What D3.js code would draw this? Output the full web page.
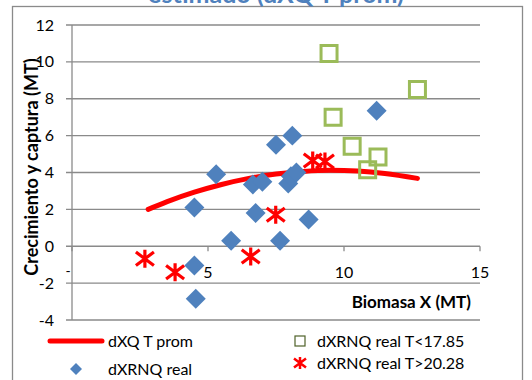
<!DOCTYPE html>
<html>
<head>
<meta charset="utf-8">
<script src="https://cdn.jsdelivr.net/npm/d3@7"></script>
<style>
  body { margin: 0; background: #fff; }
  svg { display: block; font-family: Lato, "Open Sans", sans-serif; }
</style>
</head>
<body>
<svg id="chart" width="532" height="380"></svg>
<script>
// values
var yTicks = [-4, -2, 0, 2, 4, 6, 8, 10, 12];
var xTicks = [5, 10, 15];

// dXQ T prom (fitted curve)
var promX = [2.8, 3.5, 4.5, 5.5, 6.5, 7.5, 8.5, 9.5, 10.5, 11.5, 12.7];
var promY = [2.0, 2.42, 2.93, 3.35, 3.68, 3.92, 4.06, 4.12, 4.08, 3.95, 3.68];

// dXRNQ real
var realX = [4.5, 5.3, 4.5, 4.55, 5.85, 6.65, 7.0, 6.75, 7.5, 8.1, 7.95, 8.05, 8.25, 7.65, 8.7, 11.2];
var realY = [2.1, 3.9, -1.05, -2.85, 0.3, 3.35, 3.5, 1.8, 5.5, 6.0, 3.4, 3.8, 4.0, 0.3, 1.45, 7.35];

// dXRNQ real T<17.85
var coldX = [9.45, 12.7, 9.6, 10.3, 11.25, 10.87];
var coldY = [10.45, 8.5, 7.0, 5.43, 4.84, 4.15];

// dXRNQ real T>20.28
var warmX = [2.68, 3.79, 6.57, 7.49, 8.85, 9.3];
var warmY = [-0.68, -1.41, -0.56, 1.71, 4.65, 4.6];

var svg = d3.select("#chart");

var x = d3.scaleLinear().domain([0, 15]).range([72, 480]),
  y = d3.scaleLinear().domain([-4, 12]).range([320, 25]);

var blue = "#4F81BD", green = "#9BBB59", red = "#FF0000", gridColor = "#8a8a8a";

// outer chart frame
svg.append("rect")
  .attr("x", 12.5).attr("y", 6.5)
  .attr("width", 510).attr("height", 400)
  .attr("fill", "none")
  .attr("stroke", gridColor)
  .attr("stroke-width", 1.3);

// title (mostly cut off at the top, as in the source)
svg.append("text")
  .attr("x", 276).attr("y", 3)
  .attr("text-anchor", "middle")
  .attr("font-size", 25).attr("font-weight", "bold")
  .attr("fill", "#4F81BD")
  .text("estimado (dXQ T prom)");

// horizontal gridlines
svg.append("g")
  .selectAll("line")
  .data(yTicks)
  .enter().append("line")
  .attr("x1", 66).attr("x2", x(15))
  .attr("y1", function (d) { return y(d); })
  .attr("y2", function (d) { return y(d); })
  .attr("stroke", gridColor)
  .attr("stroke-width", 1.3);

// vertical axis line
svg.append("line")
  .attr("x1", x(0)).attr("x2", x(0))
  .attr("y1", y(12)).attr("y2", y(-4))
  .attr("stroke", gridColor)
  .attr("stroke-width", 1.3);

// y tick labels
svg.append("g")
  .selectAll("text")
  .data(yTicks)
  .enter().append("text")
  .attr("x", 54)
  .attr("y", function (d) { return y(d); })
  .attr("dy", "0.35em")
  .attr("text-anchor", "end")
  .attr("font-size", 16)
  .text(function (d) { return d; });

// x ticks at y = 0
var xg = svg.append("g");
xg.selectAll("line")
  .data([0].concat(xTicks))
  .enter().append("line")
  .attr("x1", function (d) { return x(d); })
  .attr("x2", function (d) { return x(d); })
  .attr("y1", y(0)).attr("y2", y(0) + 5)
  .attr("stroke", gridColor)
  .attr("stroke-width", 1.3);
xg.selectAll("text")
  .data(xTicks)
  .enter().append("text")
  .attr("x", function (d) { return x(d); })
  .attr("y", y(0) + 26)
  .attr("dy", "0.35em")
  .attr("text-anchor", "middle")
  .attr("font-size", 16)
  .text(function (d) { return d; });

// stray dash left of the axis
svg.append("text")
  .attr("x", 68).attr("y", 276)
  .attr("text-anchor", "middle")
  .attr("font-size", 14)
  .text("-");

// axis titles
svg.append("text")
  .attr("transform", "translate(38,167) rotate(-90)")
  .attr("text-anchor", "middle")
  .attr("font-size", 18).attr("font-weight", "bold")
  .text("Crecimiento y captura (MT)");

svg.append("text")
  .attr("x", 471).attr("y", 308)
  .attr("text-anchor", "end")
  .attr("font-size", 17).attr("font-weight", "bold")
  .text("Biomasa X (MT)");

// fitted curve
var prom = promX.map(function (d, i) { return [d, promY[i]]; });
svg.append("path")
  .datum(prom)
  .attr("fill", "none")
  .attr("stroke", red)
  .attr("stroke-width", 5)
  .attr("stroke-linecap", "round")
  .attr("d", d3.line()
    .x(function (d) { return x(d[0]); })
    .y(function (d) { return y(d[1]); })
    .curve(d3.curveMonotoneX));

// markers
var diamond = d3.symbol().type(d3.symbolSquare).size(200)();
var square = d3.symbol().type(d3.symbolSquare).size(256)();
function star(r) {
  var h = r * 0.75;
  return "M0," + (-r) + "L0," + r +
    "M" + (-r) + "," + (-h) + "L" + r + "," + h +
    "M" + (-r) + "," + h + "L" + r + "," + (-h);
}

svg.append("g")
  .selectAll("path")
  .data(realX)
  .enter().append("path")
  .attr("d", diamond)
  .attr("fill", blue)
  .attr("transform", function (d, i) { return "translate(" + x(d) + "," + y(realY[i]) + ") rotate(45)"; });

svg.append("g")
  .selectAll("path")
  .data(coldX)
  .enter().append("path")
  .attr("d", square)
  .attr("fill", "none")
  .attr("stroke", green)
  .attr("stroke-width", 3)
  .attr("transform", function (d, i) { return "translate(" + x(d) + "," + y(coldY[i]) + ")"; });

svg.append("g")
  .selectAll("path")
  .data(warmX)
  .enter().append("path")
  .attr("d", star(9))
  .attr("fill", "none")
  .attr("stroke", red)
  .attr("stroke-width", 3.2)
  .attr("transform", function (d, i) { return "translate(" + x(d) + "," + y(warmY[i]) + ")"; });

// legend
var legend = svg.append("g").attr("font-size", 16);

legend.append("line")
  .attr("x1", 50).attr("x2", 102).attr("y1", 341).attr("y2", 341)
  .attr("stroke", red).attr("stroke-width", 5).attr("stroke-linecap", "round");
legend.append("text").attr("x", 108).attr("y", 341).attr("dy", "0.35em").text("dXQ T prom");

legend.append("path")
  .attr("d", d3.symbol().type(d3.symbolSquare).size(72)())
  .attr("fill", blue)
  .attr("transform", "translate(76,369) rotate(45)");
legend.append("text").attr("x", 108).attr("y", 369).attr("dy", "0.35em").text("dXRNQ real");

legend.append("rect")
  .attr("x", 295).attr("y", 336).attr("width", 10).attr("height", 10)
  .attr("fill", "none").attr("stroke", "#4F6228").attr("stroke-width", 1.2);
legend.append("text").attr("x", 317).attr("y", 341).attr("dy", "0.35em").text("dXRNQ real T<17.85");

legend.append("path")
  .attr("d", star(6))
  .attr("fill", "none").attr("stroke", red).attr("stroke-width", 2.5)
  .attr("transform", "translate(300,363)");
legend.append("text").attr("x", 317).attr("y", 363).attr("dy", "0.35em").text("dXRNQ real T>20.28");
</script>
</body>
</html>
